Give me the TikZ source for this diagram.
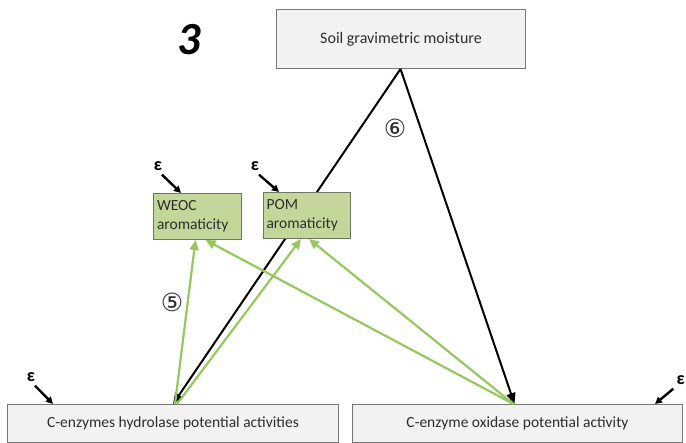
\documentclass[tikz,border=0pt]{standalone}
\usepackage{fontspec}
\setmainfont{Carlito}
\newfontfamily\dejavu{DejaVu Sans}
\usetikzlibrary{arrows.meta}
\definecolor{boxgray}{RGB}{242,242,242}
\definecolor{boxedge}{RGB}{120,120,120}
\definecolor{greenfill}{RGB}{196,215,155}
\definecolor{greenedge}{RGB}{110,120,95}
\definecolor{greenline}{RGB}{150,200,95}
\definecolor{txt}{RGB}{45,45,45}
\begin{document}
\begin{tikzpicture}[x=1pt,y=-1pt,
  graybox/.style={draw=boxedge,fill=boxgray,line width=1pt,anchor=north west,inner sep=0pt,text=txt,font=\fontsize{15.5}{18}\selectfont},
  greenbox/.style={draw=greenedge,fill=greenfill,line width=1pt,anchor=north west,inner sep=3pt,text=txt,align=left,text width=81pt,font=\fontsize{15.5}{19}\selectfont},
  blackarrow/.style={draw=black,line width=2pt,-{Triangle[length=11pt,width=9pt]}},
  greenarrow/.style={draw=greenline,line width=2.2pt,-{Triangle[length=10pt,width=9pt]}},
  epsarrow/.style={draw=black,line width=2.4pt,-{Triangle[length=7pt,width=7pt]}},
  eps/.style={font=\fontsize{18}{18}\selectfont\bfseries,inner sep=0pt},
  circnum/.style={font=\dejavu\fontsize{25}{25}\selectfont,text=txt,inner sep=0pt}]
\useasboundingbox (0,0) rectangle (686,443);
% boxes
\node[graybox,minimum width=249pt,minimum height=59pt,font=\fontsize{16}{18}\selectfont] (soil) at (276,9) {Soil gravimetric moisture};
\node[graybox,minimum width=331pt,minimum height=38pt] (hyd) at (7,404) {C-enzymes hydrolase potential activities};
\node[graybox,minimum width=330pt,minimum height=38pt] (oxi) at (352,404) {C-enzyme oxidase potential activity};
% black paths (behind green boxes)
\draw[blackarrow] ([xshift=-0.5pt]soil.south) -- (hyd.north);
\draw[blackarrow] ([xshift=-0.5pt]soil.south) -- ([xshift=-3pt]oxi.north);
% green boxes
\node[greenbox,minimum width=88pt,minimum height=46pt] (weoc) at (153,193) {WEOC\\aromaticity};
\node[greenbox,minimum width=86pt,minimum height=46pt] (pom) at (263,192) {POM\\aromaticity};
% green arrows
\draw[greenarrow] ([xshift=2pt]hyd.north) -- ([xshift=-2pt]weoc.south);
\draw[greenarrow] ([xshift=4pt]hyd.north) -- ([xshift=-6pt]pom.south);
\draw[greenarrow] ([xshift=-4pt]oxi.north) -- ([xshift=8pt]weoc.south);
\draw[greenarrow] ([xshift=-4pt]oxi.north) -- ([xshift=2pt]pom.south);
% error terms
\node[eps] (e1) at (158,166) {ε};
\draw[epsarrow] ([shift={(4pt,-4pt)}]e1.south) -- ([xshift=28pt]weoc.north west);
\node[eps] (e2) at (255,166) {ε};
\draw[epsarrow] ([shift={(4pt,-4pt)}]e2.south) -- ([xshift=16pt]pom.north west);
\node[eps] (e3) at (31,377) {ε};
\draw[epsarrow] ([shift={(4pt,-4pt)}]e3.south) -- ([xshift=46pt]hyd.north west);
\node[eps,anchor=east] (e4) at (685,380) {ε};
\draw[epsarrow] ([shift={(-3pt,-4pt)}]e4.south west) -- ([xshift=-28pt]oxi.north east);
% labels
\node[font=\fontsize{46}{46}\selectfont\bfseries\itshape,inner sep=0pt] (three) at (189,40) {3};
\node[circnum] (c6) at (395,128) {⑥};
\node[circnum] (c5) at (172,302) {⑤};
\end{tikzpicture}
\end{document}
